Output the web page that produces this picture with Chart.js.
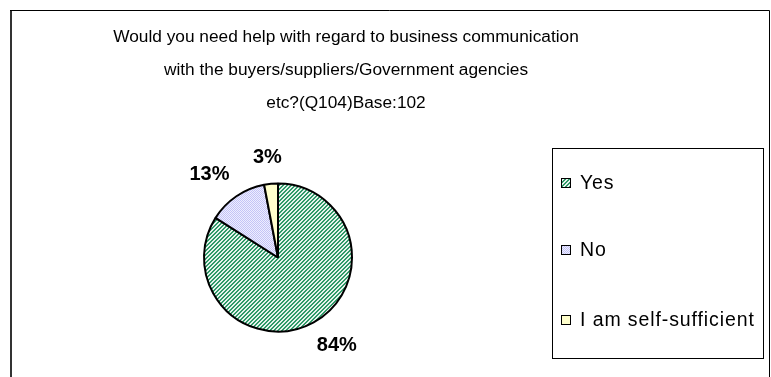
<!DOCTYPE html>
<html>
<head>
<meta charset="utf-8">
<script src="https://cdn.jsdelivr.net/npm/chart.js@4/dist/chart.umd.min.js"></script>
<style>
  body { margin: 0; background: #fff; }
  #wrap { width: 771px; height: 377px; }
</style>
</head>
<body>
<div id="wrap"><canvas id="helpChart" width="771" height="377"></canvas></div>
<script>
const titleLines = [
    'Would you need help with regard to business communication',
    'with the buyers/suppliers/Government agencies',
    'etc?(Q104)Base:102'
];
const categories = ['Yes', 'No', 'I am self-sufficient'];
const shares = [84, 13, 3];

const FONT = '"Liberation Sans", Arial, sans-serif';

// small tiled fills, like the old office hatch patterns
function makePattern(size, bg, fg, cells) {
    const c = document.createElement('canvas');
    c.width = size; c.height = size;
    const g = c.getContext('2d');
    g.fillStyle = bg;
    g.fillRect(0, 0, size, size);
    g.fillStyle = fg;
    cells.forEach(([x, y]) => g.fillRect(x, y, 1, 1));
    return g.createPattern(c, 'repeat');
}

const hatchGreen = makePattern(4, '#e6f3ec', '#2f9968',
    [[0, 3], [1, 2], [2, 1], [3, 0], [1, 3], [2, 2], [3, 1], [0, 0]]);
const dotsLavender = makePattern(2, '#eeeeff', '#c4c4f6', [[0, 0], [1, 1]]);
const fills = [hatchGreen, dotsLavender, '#ffffcc'];

const decorPlugin = {
    id: 'decor',
    beforeDraw(chart) {
        const ctx = chart.ctx;
        ctx.save();
        // frame
        ctx.strokeStyle = '#333';
        ctx.lineWidth = 2;
        ctx.beginPath();
        ctx.moveTo(11, 380);
        ctx.lineTo(11, 10.5);
        ctx.stroke();
        ctx.strokeStyle = '#000';
        ctx.lineWidth = 1;
        ctx.beginPath();
        ctx.moveTo(10, 10.5);
        ctx.lineTo(769.5, 10.5);
        ctx.lineTo(769.5, 380);
        ctx.stroke();

        // title
        ctx.fillStyle = '#000';
        ctx.font = '17.3px ' + FONT;
        ctx.textAlign = 'center';
        ctx.textBaseline = 'middle';
        titleLines.forEach((line, i) => ctx.fillText(line, 346, 37 + i * 33));
        ctx.restore();
    },
    afterDraw(chart) {
        const ctx = chart.ctx;
        const meta = chart.getDatasetMeta(0);
        ctx.save();

        // percentage labels outside each slice
        ctx.font = 'bold 20px ' + FONT;
        ctx.fillStyle = '#000';
        ctx.textAlign = 'center';
        ctx.textBaseline = 'middle';
        meta.data.forEach((arc, i) => {
            const mid = (arc.startAngle + arc.endAngle) / 2;
            const dx = Math.cos(mid), dy = Math.sin(mid);
            const txt = shares[i] + '%';
            const w = ctx.measureText(txt).width;
            const r = arc.outerRadius + 16;
            const x = arc.x + dx * r + dx * w * 0.8;
            const y = arc.y + dy * r + dy * 10;
            ctx.fillText(txt, x, y);
        });

        // legend box
        ctx.strokeStyle = '#000';
        ctx.lineWidth = 1;
        ctx.strokeRect(552.5, 148.5, 211, 210);
        ctx.font = '19.5px ' + FONT;
        ctx.letterSpacing = '0.9px';
        ctx.textAlign = 'left';
        const rows = [183, 250, 320];
        categories.forEach((name, i) => {
            ctx.fillStyle = fills[i];
            ctx.fillRect(561, rows[i] - 5, 10, 10);
            ctx.strokeRect(561.5, rows[i] - 4.5, 9, 9);
            ctx.fillStyle = '#000';
            ctx.fillText(name, 580, rows[i] + 1);
        });
        ctx.restore();
    }
};

new Chart(document.getElementById('helpChart'), {
    type: 'pie',
    data: {
        labels: categories,
        datasets: [{
            data: shares,
            backgroundColor: fills,
            borderColor: '#000',
            borderWidth: 2
        }]
    },
    options: {
        responsive: false,
        animation: false,
        layout: { padding: { left: 203, right: 418, top: 182, bottom: 44 } },
        plugins: {
            legend: { display: false },
            title: { display: false },
            tooltip: { enabled: false }
        }
    },
    plugins: [decorPlugin]
});
</script>
</body>
</html>
